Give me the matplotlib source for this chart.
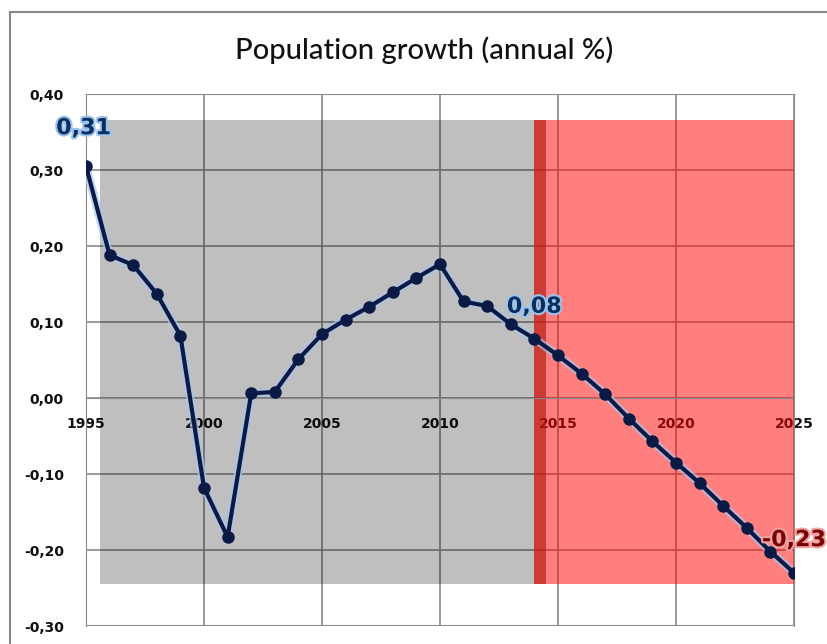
import matplotlib
matplotlib.use("Agg")
import matplotlib.pyplot as plt
import matplotlib.patheffects as pe
from matplotlib.patches import Rectangle
from matplotlib.lines import Line2D

# ---- data ----
years = list(range(1995, 2026))
growth = [0.305, 0.188, 0.175, 0.137, 0.082, -0.118, -0.183, 0.006, 0.008, 0.051,
          0.084, 0.103, 0.120, 0.139, 0.158, 0.176, 0.127, 0.121, 0.097, 0.078,
          0.056, 0.032, 0.005, -0.027, -0.057, -0.085, -0.112, -0.142, -0.171, -0.202,
          -0.230]
x_ticks = [1995, 2000, 2005, 2010, 2015, 2020, 2025]
y_ticks = [-0.3, -0.2, -0.1, 0.0, 0.1, 0.2, 0.3, 0.4]
title = "Population growth (annual %)"
labels = [("0,31", 1994.9, 0.355), ("0,08", 2014.0, 0.120), ("-0,23", 2025.0, -0.187)]
hist_span = (1995.6, 2014.0)
proj_span = (2014.0, 2025.0)
span_y = (-0.245, 0.366)
marker_band = (2014.0, 2014.5)

fig = plt.figure(figsize=(8.28, 6.44), dpi=100)
fig.patch.set_facecolor("white")
ax = fig.add_axes([86/828, 1-626/644, 708/828, 532/644])
ax.set_xlim(1995, 2025)
ax.set_ylim(-0.3, 0.4)

# grid
ax.set_xticks(x_ticks)
ax.set_yticks(y_ticks)
ax.grid(True, color="#8a8a8a", linewidth=1.2, zorder=0)
ax.set_axisbelow(True)

# shaded regions
h = span_y[1] - span_y[0]
ax.add_patch(Rectangle((hist_span[0], span_y[0]), hist_span[1]-hist_span[0], h,
                       facecolor="black", alpha=0.25, edgecolor="none", zorder=1))
ax.add_patch(Rectangle((proj_span[0], span_y[0]), proj_span[1]-proj_span[0], h,
                       facecolor="#ff0000", alpha=0.5, edgecolor="none", zorder=1))
ax.add_patch(Rectangle((marker_band[0], span_y[0]), marker_band[1]-marker_band[0], h,
                       facecolor="#b01810", alpha=0.65, edgecolor="none", zorder=1.5))

# line with soft glow, markers on top
ax.plot(years, growth, color="#0b1a45", linewidth=3, zorder=3,
        path_effects=[pe.Stroke(linewidth=6, foreground="#a9c6ee", alpha=0.7), pe.Normal()])
ax.plot(years, growth, linestyle="none", marker="o", markersize=8,
        markerfacecolor="#0b1a45", markeredgecolor="#0b1a45", zorder=4)

# value labels
cols = ["#0a2f5e", "#0a2f5e", "#7a0000"]
glows = ["#9cc3ee", "#9cc3ee", "#f0a0a0"]
for (txt, x, y), c, g in zip(labels, cols, glows):
    ax.text(x, y, txt, ha="center", va="center", fontsize=16, fontweight="bold",
            color=c, zorder=5, clip_on=False,
            path_effects=[pe.withStroke(linewidth=3, foreground=g)])

# spines / ticks
for s in ["top", "right", "left"]:
    ax.spines[s].set_color("#8a8a8a")
ax.spines["bottom"].set_position(("data", 0))
ax.spines["bottom"].set_color("#8a8a8a")
ax.tick_params(axis="both", length=0, labelcolor="#111111")
ax.tick_params(axis="x", pad=14)
ax.tick_params(axis="y", pad=16)
ax.set_xticklabels([str(v) for v in x_ticks], fontsize=10, fontweight="bold")
ax.set_yticklabels([f"{v:.2f}".replace(".", ",") for v in y_ticks], fontsize=10, fontweight="bold")
# bottom frame line at -0.30
ax.axhline(-0.3, color="#8a8a8a", linewidth=1.5, zorder=0.5)

fig.text(424/828, 1-50/644, title, ha="center", va="center", fontsize=21, family="Lato",
         fontweight="medium", color="#111111")

# outer chart border (left and top visible)
fig.add_artist(Line2D([10/828, 10/828], [0, 1-12/644], transform=fig.transFigure, color="#888888", lw=1.5))
fig.add_artist(Line2D([10/828, 1], [1-12/644, 1-12/644], transform=fig.transFigure, color="#888888", lw=1.5))

fig.savefig("out.png", dpi=100)
